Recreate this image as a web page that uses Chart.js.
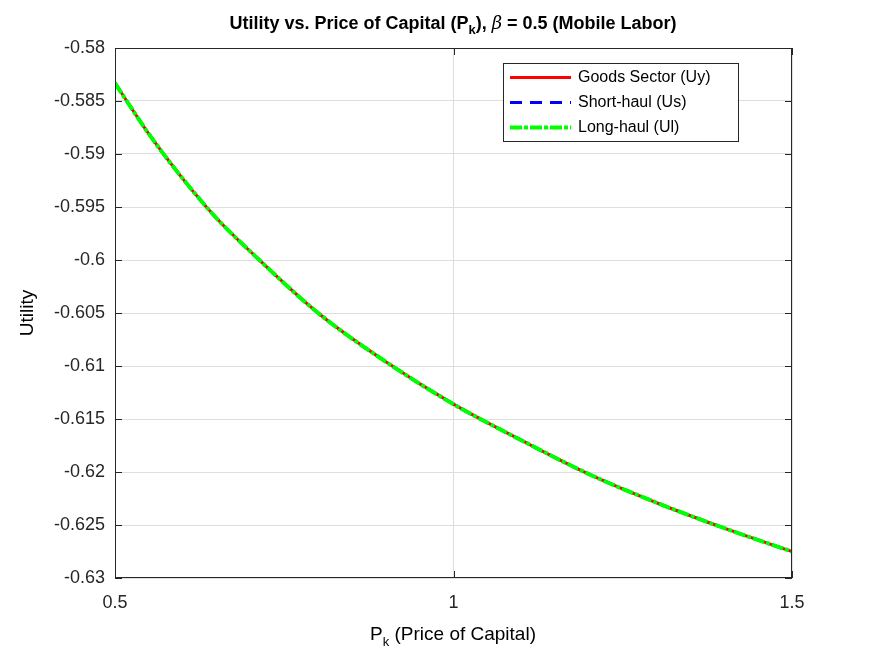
<html>
<head>
<script src="https://cdn.jsdelivr.net/npm/chart.js"></script>
<style> body { margin:0; background:#fff } #wrap { width:875px; height:656px } </style>
</head>
<body>
<div id="wrap"><canvas id="myChart" width="875" height="656"></canvas></div>
<script>
// values
pk = [0.5, 0.55, 0.6, 0.65, 0.7, 0.8, 0.9, 1.0, 1.1, 1.2, 1.3, 1.4, 1.5]
uy = [-0.58331, -0.58811, -0.59232, -0.59606, -0.5992, -0.6050, -0.6096, -0.6136, -0.6170, -0.6202, -0.6229, -0.6253, -0.62751]
us = uy.slice()
ul = uy.slice()
xticks = [0.5, 1, 1.5]
yticks = [-0.58, -0.585, -0.59, -0.595, -0.6, -0.605, -0.61, -0.615, -0.62, -0.625, -0.63]
names = ['Goods Sector (Uy)', 'Short-haul (Us)', 'Long-haul (Ul)']

F = '"Liberation Sans", Arial, sans-serif'

function pts(ys) { return pk.map((x, i) => ({x: x, y: ys[i]})) }

const extras = {
  id: 'extras',
  afterDraw(c) {
    const ctx = c.ctx, a = c.chartArea
    ctx.save()
    // box + inner ticks
    ctx.strokeStyle = '#262626'; ctx.lineWidth = 1
    ctx.strokeRect(a.left + 0.5, a.top + 0.5, a.right - a.left - 1, a.bottom - a.top - 1)
    yticks.forEach(v => {
      const y = Math.round(c.scales.y.getPixelForValue(v)) + 0.5
      ctx.beginPath(); ctx.moveTo(a.left, y); ctx.lineTo(a.left + 7, y)
      ctx.moveTo(a.right, y); ctx.lineTo(a.right - 7, y); ctx.stroke()
    })
    xticks.forEach(v => {
      const x = Math.round(c.scales.x.getPixelForValue(v)) + 0.5
      ctx.beginPath(); ctx.moveTo(x, a.bottom); ctx.lineTo(x, a.bottom - 7)
      ctx.moveTo(x, a.top); ctx.lineTo(x, a.top + 7); ctx.stroke()
    })
    // title
    ctx.fillStyle = '#000'
    ctx.textBaseline = 'alphabetic'
    const parts = [['Utility vs. Price of Capital (P', 'bold 18px ' + F, 0],
                   ['k', 'bold 13px ' + F, 5],
                   ['), ', 'bold 18px ' + F, 0],
                   ['\u03B2', 'italic 18px "DejaVu Serif", serif', 0],
                   [' = 0.5 (Mobile Labor)', 'bold 18px ' + F, 0]]
    let w = 0
    parts.forEach(p => { ctx.font = p[1]; w += ctx.measureText(p[0]).width })
    let x = 453 - w / 2
    parts.forEach(p => { ctx.font = p[1]; ctx.fillText(p[0], x, 29 + p[2]); x += ctx.measureText(p[0]).width })
    // x title
    const xp = [['P', '19px ' + F, 0], ['k', '13px ' + F, 6], [' (Price of Capital)', '19px ' + F, 0]]
    w = 0
    xp.forEach(p => { ctx.font = p[1]; w += ctx.measureText(p[0]).width })
    x = 453 - w / 2
    xp.forEach(p => { ctx.font = p[1]; ctx.fillText(p[0], x, 640 + p[2]); x += ctx.measureText(p[0]).width })
    // y title
    ctx.font = '19px ' + F
    ctx.translate(33, 313); ctx.rotate(-Math.PI / 2)
    ctx.textAlign = 'center'; ctx.fillText('Utility', 0, 0)
    ctx.setTransform(1, 0, 0, 1, 0, 0)
    // legend
    const lx = 503, ly = 63, lw = 235, lh = 78
    ctx.fillStyle = '#fff'; ctx.fillRect(lx, ly, lw, lh)
    ctx.strokeStyle = '#262626'; ctx.lineWidth = 1
    ctx.strokeRect(lx + 0.5, ly + 0.5, lw, lh)
    ctx.font = '16px ' + F; ctx.textAlign = 'left'; ctx.textBaseline = 'middle'
    c.data.datasets.forEach((d, i) => {
      const yy = ly + 14 + i * 25 + 0.5
      ctx.strokeStyle = d.borderColor; ctx.lineWidth = d.borderWidth
      ctx.setLineDash(d.borderDash || [])
      ctx.beginPath(); ctx.moveTo(lx + 7, yy); ctx.lineTo(lx + 68, yy); ctx.stroke()
      ctx.setLineDash([])
      ctx.fillStyle = '#000'; ctx.fillText(names[i], lx + 75, yy)
    })
    ctx.restore()
  }
}

new Chart(document.getElementById('myChart'), {
  type: 'line',
  data: {
    datasets: [
      {label: names[0], data: pts(uy), borderColor: '#ff0000', borderWidth: 3, order: 2},
      {label: names[1], data: pts(us), borderColor: '#0000ff', borderWidth: 3, borderDash: [12, 8], order: 1},
      {label: names[2], data: pts(ul), borderColor: '#00ff00', borderWidth: 4, borderDash: [12, 2, 4, 2], order: 0}
    ]
  },
  options: {
    responsive: false, animation: false,
    elements: {point: {radius: 0}, line: {tension: 0.4, cubicInterpolationMode: 'monotone'}},
    layout: {padding: {left: 0, right: 83, top: 48, bottom: 0}},
    plugins: {legend: {display: false}, tooltip: {enabled: false}},
    scales: {
      x: {type: 'linear', min: 0.5, max: 1.5,
          afterBuildTicks: s => { s.ticks = xticks.map(v => ({value: v})) },
          afterFit: s => { s.height = 78 },
          grid: {color: '#dedede', drawTicks: false}, border: {display: false},
          ticks: {color: '#262626', padding: 14, font: {family: F, size: 18}, callback: v => String(v)}},
      y: {min: -0.63, max: -0.58,
          afterBuildTicks: s => { s.ticks = yticks.map(v => ({value: v})) },
          afterFit: s => { s.width = 115 },
          grid: {color: '#dedede', drawTicks: false}, border: {display: false},
          ticks: {color: '#262626', padding: 10, font: {family: F, size: 18}, callback: v => String(+v.toFixed(3))}}
    }
  },
  plugins: [extras]
})
</script>
</body>
</html>
